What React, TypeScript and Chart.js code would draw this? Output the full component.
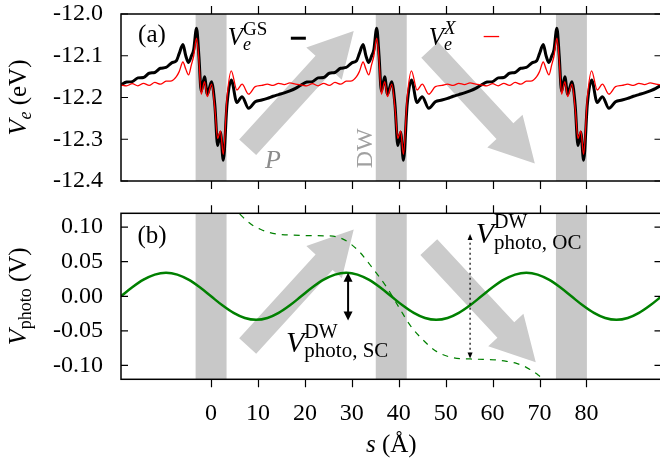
import React, { useEffect, useRef } from 'react';
import { Chart, registerables } from 'chart.js';
Chart.register(...registerables);

// ---------- data ----------
const S_MIN = -19.2;
const S_MAX = 96;
const dwCenters = [0, 38.4, 76.8];
const dwHalfWidth = 3.3;

// one supercell period, offsets from the DW centre (Å)
const profileOffsets = [
  -19.2, -18.0, -16.8, -15.6, -14.4, -13.2, -12.0, -10.8, -9.6, -8.4, -7.4, -6.8, -6.0, -5.4,
  -4.8, -4.2, -3.7, -3.1, -2.6, -2.1, -1.4, -0.8, 0.1, 0.8, 1.4, 2.0, 2.6, 3.4, 4.3, 5.5, 6.6,
  8.0, 9.4, 10.8, 12.0, 13.2, 14.4, 15.6, 16.8, 18.0, 19.2,
];
const gsProfile = [
  -12.170, -12.163, -12.162, -12.153, -12.152, -12.142, -12.140, -12.130, -12.128, -12.117, -12.112,
  -12.095, -12.073, -12.100, -12.116, -12.101, -12.085, -12.034, -12.100, -12.185, -12.150, -12.192,
  -12.162, -12.218, -12.315, -12.283, -12.350, -12.216, -12.158, -12.212, -12.198, -12.226, -12.210,
  -12.206, -12.202, -12.197, -12.193, -12.189, -12.184, -12.178, -12.170,
];
const xProfile = [
  -12.170, -12.172, -12.167, -12.172, -12.166, -12.171, -12.164, -12.168, -12.161, -12.160, -12.150,
  -12.138, -12.115, -12.132, -12.146, -12.122, -12.100, -12.058, -12.110, -12.192, -12.162, -12.198,
  -12.168, -12.226, -12.298, -12.280, -12.336, -12.200, -12.136, -12.182, -12.168, -12.192, -12.174,
  -12.171, -12.168, -12.171, -12.166, -12.169, -12.165, -12.168, -12.170,
];

const photoS = [
  -19.2, -16.8, -14.4, -12, -9.6, -7.2, -4.8, -2.4, 0, 2.4, 4.8, 7.2, 9.6, 12, 14.4, 16.8, 19.2,
  21.6, 24, 26.4, 28.8, 31.2, 33.6, 36, 38.4, 40.8, 43.2, 45.6, 48, 50.4, 52.8, 55.2, 57.6, 60,
  62.4, 64.8, 67.2, 69.6, 72, 74.4, 76.8, 79.2, 81.6, 84, 86.4, 88.8, 91.2, 93.6, 96,
];
const photoSC = [
  0, 0.013, 0.024, 0.0314, 0.034, 0.0314, 0.024, 0.013, 0, -0.013, -0.024, -0.0314, -0.034, -0.0314,
  -0.024, -0.013, 0, 0.013, 0.024, 0.0314, 0.034, 0.0314, 0.024, 0.013, 0, -0.013, -0.024, -0.0314,
  -0.034, -0.0314, -0.024, -0.013, 0, 0.013, 0.024, 0.0314, 0.034, 0.0314, 0.024, 0.013, 0, -0.013,
  -0.024, -0.0314, -0.034, -0.0314, -0.024, -0.013, 0,
];

const ocS = [6.1, 7.5, 9.0, 10.5, 11.8, 14, 16.1, 20.3, 24, 26, 28, 29.5, 31.7, 34.5, 37.4, 40.2, 42.4,
  45.2, 48.1, 51.6, 55.2, 58, 60.9, 63, 65.1, 67, 68, 69.7, 70.3];
const ocV = [0.119, 0.11, 0.102, 0.097, 0.0935, 0.09, 0.0888, 0.0878, 0.0875, 0.087, 0.083, 0.077,
  0.0638, 0.04, 0.0134, -0.0177, -0.0417, -0.0633, -0.08, -0.0888, -0.0906, -0.0912, -0.092, -0.094,
  -0.097, -0.102, -0.106, -0.1137, -0.117];

const xTicks = [0, 10, 20, 30, 40, 50, 60, 70, 80];
const yTicksA = [-12.4, -12.3, -12.2, -12.1, -12.0];
const yTicksB = [-0.1, -0.05, 0, 0.05, 0.1];

// ---------- styling ----------
const SERIF = '"Liberation Serif", "Times New Roman", serif';
const BAND = '#c8c8c8';
const ARROW = '#cbcbcb';
const GREEN = '#008000';

const gsData = dwCenters.flatMap((c, k) =>
  profileOffsets.map((d, i) => ({ x: c + d, y: gsProfile[i] })).filter((_, i) => k === 0 || i > 0));
const xData = dwCenters.flatMap((c, k) =>
  profileOffsets.map((d, i) => ({ x: c + d, y: xProfile[i] })).filter((_, i) => k === 0 || i > 0));
const scData = photoS.map((s, i) => ({ x: s, y: photoSC[i] }));
const ocData = ocS.map((s, i) => ({ x: s, y: ocV[i] }));

type Seg = { t: string; size: number; it?: boolean; dy?: number; stack?: boolean };
const font = (size: number, it?: boolean) => `${it ? 'italic ' : ''}${size}px ${SERIF}`;

function drawRich(ctx: CanvasRenderingContext2D, segs: Seg[], x: number, y: number, align = 'left', color = '#000') {
  ctx.save();
  ctx.fillStyle = color;
  ctx.textBaseline = 'alphabetic';
  ctx.textAlign = 'left';
  const pos: number[] = [];
  let w = 0;
  let sw = 0;
  for (const s of segs) {
    ctx.font = font(s.size, s.it);
    const mw = ctx.measureText(s.t).width;
    pos.push(w);
    if (s.stack) sw = Math.max(sw, mw);
    else { w += Math.max(mw, sw); sw = 0; }
  }
  w += sw;
  const x0 = align === 'center' ? x - w / 2 : align === 'right' ? x - w : x;
  segs.forEach((s, i) => {
    ctx.font = font(s.size, s.it);
    ctx.fillText(s.t, x0 + pos[i], y + (s.dy || 0));
  });
  ctx.restore();
}

function blockArrow(ctx: CanvasRenderingContext2D, x1: number, y1: number, x2: number, y2: number) {
  const sh = 11.5, hh = 24, hl = 44;
  const dx = x2 - x1, dy = y2 - y1, L = Math.hypot(dx, dy);
  const ux = dx / L, uy = dy / L, nx = -uy, ny = ux;
  const bx = x2 - ux * hl, by = y2 - uy * hl;
  ctx.beginPath();
  ctx.moveTo(x1 + nx * sh, y1 + ny * sh);
  ctx.lineTo(bx + nx * sh, by + ny * sh);
  ctx.lineTo(bx + nx * hh, by + ny * hh);
  ctx.lineTo(x2, y2);
  ctx.lineTo(bx - nx * hh, by - ny * hh);
  ctx.lineTo(bx - nx * sh, by - ny * sh);
  ctx.lineTo(x1 - nx * sh, y1 - ny * sh);
  ctx.closePath();
  ctx.fillStyle = ARROW;
  ctx.fill();
}

function vArrow(ctx: CanvasRenderingContext2D, x: number, yTop: number, yBot: number, lw: number, dash: number[], hl: number, hw: number) {
  ctx.save();
  ctx.strokeStyle = '#000';
  ctx.fillStyle = '#000';
  ctx.lineWidth = lw;
  ctx.setLineDash(dash);
  ctx.beginPath();
  ctx.moveTo(x, yTop + hl * 0.6);
  ctx.lineTo(x, yBot - hl * 0.6);
  ctx.stroke();
  ctx.setLineDash([]);
  ctx.beginPath();
  ctx.moveTo(x, yTop); ctx.lineTo(x - hw, yTop + hl); ctx.lineTo(x + hw, yTop + hl); ctx.closePath(); ctx.fill();
  ctx.beginPath();
  ctx.moveTo(x, yBot); ctx.lineTo(x - hw, yBot - hl); ctx.lineTo(x + hw, yBot - hl); ctx.closePath(); ctx.fill();
  ctx.restore();
}

function drawBands(chart: any) {
  const ctx = chart.ctx as CanvasRenderingContext2D;
  const { top, bottom } = chart.chartArea;
  const xs = chart.scales.x;
  ctx.save();
  ctx.fillStyle = BAND;
  for (const c of dwCenters) {
    const x1 = xs.getPixelForValue(c - dwHalfWidth);
    const x2 = xs.getPixelForValue(c + dwHalfWidth);
    ctx.fillRect(x1, top, x2 - x1, bottom - top);
  }
  ctx.restore();
}

function drawFrame(chart: any, yTicks: number[]) {
  const ctx = chart.ctx as CanvasRenderingContext2D;
  const { left, right, top, bottom } = chart.chartArea;
  const xs = chart.scales.x, ys = chart.scales.y;
  ctx.save();
  ctx.strokeStyle = '#000';
  ctx.lineWidth = 1.5;
  ctx.strokeRect(left, top, right - left, bottom - top);
  ctx.lineWidth = 1.2;
  ctx.beginPath();
  for (const v of xTicks) {
    const X = Math.round(xs.getPixelForValue(v)) + 0.5;
    ctx.moveTo(X, top); ctx.lineTo(X, top - 8);
    ctx.moveTo(X, bottom); ctx.lineTo(X, bottom + 8);
  }
  for (const v of yTicks) {
    const Y = ys.getPixelForValue(v);
    ctx.moveTo(left, Y); ctx.lineTo(left + 7, Y);
    ctx.moveTo(right, Y); ctx.lineTo(right - 7, Y);
  }
  ctx.stroke();
  ctx.restore();
}

function legendLine(ctx: CanvasRenderingContext2D, x1: number, x2: number, y: number, color: string, lw: number) {
  ctx.save();
  ctx.strokeStyle = color;
  ctx.lineWidth = lw;
  ctx.beginPath(); ctx.moveTo(x1, y); ctx.lineTo(x2, y); ctx.stroke();
  ctx.restore();
}

const decoA = {
  id: 'decoA',
  beforeDatasetsDraw(chart: any) {
    drawBands(chart);
    const ctx = chart.ctx, xs = chart.scales.x, ys = chart.scales.y;
    ctx.save();
    blockArrow(ctx, xs.getPixelForValue(7.8), ys.getPixelForValue(-12.319), xs.getPixelForValue(30.4), ys.getPixelForValue(-12.041));
    blockArrow(ctx, xs.getPixelForValue(46.6), ys.getPixelForValue(-12.086), xs.getPixelForValue(69.0), ys.getPixelForValue(-12.358));
    ctx.restore();
  },
  afterDatasetsDraw(chart: any) {
    const ctx = chart.ctx as CanvasRenderingContext2D, xs = chart.scales.x, ys = chart.scales.y;
    drawFrame(chart, yTicksA);
    drawRich(ctx, [{ t: '(a)', size: 25 }], xs.getPixelForValue(-12.6), ys.getPixelForValue(-12.068), 'center');
    drawRich(ctx, [{ t: 'V', size: 25, it: true }, { t: 'GS', size: 19, dy: -10, stack: true }, { t: 'e', size: 18, it: true, dy: 5 }],
      xs.getPixelForValue(3.55), ys.getPixelForValue(-12.0744));
    legendLine(ctx, xs.getPixelForValue(17.0), xs.getPixelForValue(20.2), ys.getPixelForValue(-12.058), '#000', 3);
    drawRich(ctx, [{ t: 'V', size: 25, it: true }, { t: 'X', size: 19, it: true, dy: -11, stack: true }, { t: 'e', size: 18, it: true, dy: 5 }],
      xs.getPixelForValue(46.4), ys.getPixelForValue(-12.0744));
    legendLine(ctx, xs.getPixelForValue(58.1), xs.getPixelForValue(61.4), ys.getPixelForValue(-12.054), '#ff0000', 1.3);
    drawRich(ctx, [{ t: 'P', size: 26, it: true }], xs.getPixelForValue(13.2), ys.getPixelForValue(-12.3696), 'center', '#8c8c8c');
    ctx.save();
    ctx.translate(xs.getPixelForValue(34.26), ys.getPixelForValue(-12.3216));
    ctx.rotate(-Math.PI / 2);
    drawRich(ctx, [{ t: 'DW', size: 24 }], 0, 0, 'center', '#a0a0a0');
    ctx.restore();
    ctx.save();
    ctx.translate(26, (chart.chartArea.top + chart.chartArea.bottom) / 2);
    ctx.rotate(-Math.PI / 2);
    drawRich(ctx, [{ t: 'V', size: 26, it: true }, { t: 'e', size: 18, it: true, dy: 5 }, { t: ' (eV)', size: 25 }], 0, 0, 'center');
    ctx.restore();
  },
};

const decoB = {
  id: 'decoB',
  beforeDatasetsDraw(chart: any) {
    drawBands(chart);
    const ctx = chart.ctx, xs = chart.scales.x, ys = chart.scales.y;
    ctx.save();
    blockArrow(ctx, xs.getPixelForValue(7.8), ys.getPixelForValue(-0.072), xs.getPixelForValue(30.4), ys.getPixelForValue(0.0964));
    blockArrow(ctx, xs.getPixelForValue(46.4), ys.getPixelForValue(0.0712), xs.getPixelForValue(69.2), ys.getPixelForValue(-0.0954));
    ctx.restore();
  },
  afterDatasetsDraw(chart: any) {
    const ctx = chart.ctx as CanvasRenderingContext2D, xs = chart.scales.x, ys = chart.scales.y;
    const { left, right, top, bottom } = chart.chartArea;
    drawFrame(chart, yTicksB);
    drawRich(ctx, [{ t: '(b)', size: 25 }], xs.getPixelForValue(-12.6), ys.getPixelForValue(0.0777), 'center');
    vArrow(ctx, xs.getPixelForValue(29.2), ys.getPixelForValue(0.034), ys.getPixelForValue(-0.035), 2, [], 9, 4.5);
    vArrow(ctx, xs.getPixelForValue(55.2), ys.getPixelForValue(0.09), ys.getPixelForValue(-0.09), 1.2, [2, 3], 6, 2.5);
    drawRich(ctx, [{ t: 'V', size: 30, it: true }, { t: 'DW', size: 20, dy: -14, stack: true }, { t: 'photo, SC', size: 21, dy: 5 }],
      xs.getPixelForValue(15.97), ys.getPixelForValue(-0.0806));
    drawRich(ctx, [{ t: 'V', size: 30, it: true }, { t: 'DW', size: 20, dy: -15, stack: true }, { t: 'photo, OC', size: 21, dy: 6 }],
      xs.getPixelForValue(56.4), ys.getPixelForValue(0.0777));
    ctx.save();
    ctx.translate(26, (top + bottom) / 2);
    ctx.rotate(-Math.PI / 2);
    drawRich(ctx, [{ t: 'V', size: 26, it: true }, { t: 'photo', size: 18, dy: 5 }, { t: ' (V)', size: 25 }], 0, 0, 'center');
    ctx.restore();
    drawRich(ctx, [{ t: 's', size: 25, it: true }, { t: ' (Å)', size: 25 }], (left + right) / 2, bottom + 73, 'center');
  },
};

const tickFont = { family: SERIF, size: 24 };

export default function App() {
  const refA = useRef<HTMLCanvasElement>(null);
  const refB = useRef<HTMLCanvasElement>(null);
  useEffect(() => {
    const a = new Chart(refA.current!, {
      type: 'line',
      data: {
        datasets: [
          { data: xData, borderColor: '#ff0000', borderWidth: 1.3, pointRadius: 0, cubicInterpolationMode: 'monotone', fill: false },
          { data: gsData, borderColor: '#000000', borderWidth: 3, pointRadius: 0, cubicInterpolationMode: 'monotone', fill: false },
        ],
      },
      options: {
        responsive: false,
        animation: false,
        devicePixelRatio: 1,
        events: [],
        layout: { padding: { top: 14, bottom: 19, left: 0, right: 10.5 } },
        plugins: { legend: { display: false }, tooltip: { enabled: false } },
        scales: {
          x: { type: 'linear', min: S_MIN, max: S_MAX, display: false },
          y: {
            type: 'linear', min: -12.4, max: -12.0,
            grid: { display: false, drawTicks: false }, border: { display: false },
            afterBuildTicks: (s: any) => { s.ticks = yTicksA.map((v) => ({ value: v })); },
            afterFit: (s: any) => { s.width = 121; s.paddingTop = 0; s.paddingBottom = 0; },
            ticks: { font: tickFont, color: '#000', padding: 18, autoSkip: false, callback: (v: any) => Number(v).toFixed(1) },
          },
        },
      } as any,
      plugins: [decoA],
    } as any);
    const b = new Chart(refB.current!, {
      type: 'line',
      data: {
        datasets: [
          { data: scData, borderColor: GREEN, borderWidth: 2.5, pointRadius: 0, cubicInterpolationMode: 'monotone', fill: false },
          { data: ocData, borderColor: GREEN, borderWidth: 1.2, borderDash: [6, 6], pointRadius: 0, cubicInterpolationMode: 'monotone', fill: false },
        ],
      },
      options: {
        responsive: false,
        animation: false,
        devicePixelRatio: 1,
        events: [],
        layout: { padding: { top: 13.3, bottom: 0, left: 0, right: 10.5 } },
        plugins: { legend: { display: false }, tooltip: { enabled: false } },
        scales: {
          x: {
            type: 'linear', min: S_MIN, max: S_MAX, position: 'bottom',
            grid: { display: false, drawTicks: false }, border: { display: false },
            afterBuildTicks: (s: any) => { s.ticks = xTicks.map((v) => ({ value: v })); },
            afterFit: (s: any) => { s.height = 84.7; s.paddingLeft = 0; s.paddingRight = 0; },
            ticks: { font: tickFont, color: '#000', padding: 20, autoSkip: false, maxRotation: 0, callback: (v: any) => String(v) },
          },
          y: {
            type: 'linear', min: -0.12, max: 0.12,
            grid: { display: false, drawTicks: false }, border: { display: false },
            afterBuildTicks: (s: any) => { s.ticks = yTicksB.map((v) => ({ value: v })); },
            afterFit: (s: any) => { s.width = 121; s.paddingTop = 0; s.paddingBottom = 0; },
            ticks: { font: tickFont, color: '#000', padding: 18, autoSkip: false, callback: (v: any) => Number(v).toFixed(2) },
          },
        },
      } as any,
      plugins: [decoB],
    } as any);
    return () => { a.destroy(); b.destroy(); };
  }, []);
  return (
    <div style={{ position: 'fixed', left: 0, top: 0, width: 660, height: 464, overflow: 'hidden', background: '#fff' }}>
      <canvas ref={refA} width={672} height={200} style={{ position: 'absolute', left: 0, top: 0 }} />
      <canvas ref={refB} width={672} height={264} style={{ position: 'absolute', left: 0, top: 200 }} />
    </div>
  );
}
